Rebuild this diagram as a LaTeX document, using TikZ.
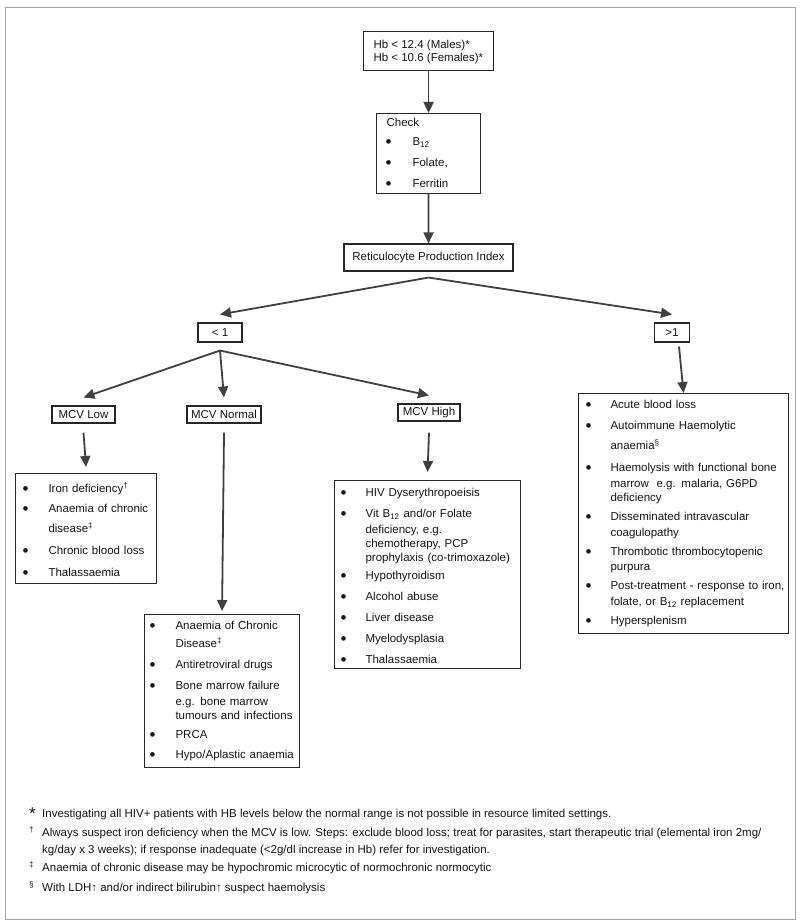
\documentclass[tikz,border=0pt]{standalone}
\usepackage{fontspec}
\setmainfont{Liberation Sans}
\usepackage{tikz}
\usetikzlibrary{arrows.meta}

\definecolor{arrowgray}{HTML}{404040}
\definecolor{boxblack}{HTML}{262626}
\definecolor{textdark}{HTML}{151515}
\definecolor{framegray}{HTML}{A6A6A6}

\newcommand{\mainsize}{\fontsize{11.5}{14}\selectfont}
\newcommand{\bul}{\raisebox{-1.6pt}{\fontsize{17}{14}\selectfont\textbullet}}
\newcommand{\tgap}[1]{\rule{0pt}{#1}}
\newcommand{\bgap}[1]{\rule[-#1]{0pt}{#1}}

\tikzset{
  box/.style={draw=boxblack, line width=1.1pt, text=textdark, font=\mainsize, inner sep=2pt},
  listbox/.style={box, anchor=north west, align=left, inner ysep=0pt},
  every edge/.style={draw=arrowgray, line width=1.8pt}
}

\begin{document}
\begin{tikzpicture}[x=1pt,y=-1pt,->,>={Triangle[length=11pt,width=10pt]}]
  \useasboundingbox (0,0) rectangle (800,923);
  \draw[-, framegray, line width=0.8pt] (5,7) rectangle (795,919);

  % top of the chart
  \node[box, anchor=north west, inner xsep=10pt, inner ysep=0pt] (hb) at (363,31)
    {\begin{tabular}{@{}l@{}}
      \tgap{17pt}Hb < 12.4 (Males)*\\[-1pt]
      Hb < 10.6 (Females)*\bgap{9pt}
    \end{tabular}};
  \node[listbox, text width=86pt, inner xsep=9pt] (chk) at (376,113)
    {\begin{tabular}{@{}p{27pt}@{}l@{}}
      \multicolumn{2}{@{}l@{}}{\hspace{1pt}\tgap{13pt}Check}\\[5pt]
      \bul & B\textsubscript{12}\\[7pt]
      \bul & Folate,\\[7pt]
      \bul & Ferritin\bgap{6pt}
    \end{tabular}};
  \node[box, minimum width=169pt, minimum height=27pt] (rpi) at (428.5,257.5) {Reticulocyte Production Index};
  \coordinate (rpiFork) at ([yshift=-6pt]rpi.south);

  \node[box, minimum width=44pt, minimum height=19pt] (lt1) at (220,332.5) {< 1};
  \node[box, minimum width=35pt, minimum height=19pt] (gt1) at (672,332.5) {>1};
  \coordinate (ltFork) at ([yshift=-8pt]lt1.south);

  \node[box, minimum width=63pt, minimum height=17pt, inner sep=1pt] (low) at (83.5,414.5) {MCV Low};
  \node[box, minimum width=74pt, minimum height=17pt, inner sep=1pt] (norm) at (224,414.5) {MCV Normal};
  \node[box, minimum width=62pt, minimum height=17pt, inner sep=1pt] (high) at (429,412.5) {MCV High};

  % lists of causes
  \node[listbox, text width=127pt, inner xsep=7pt] (lbox) at (15,473)
    {\begin{tabular}{@{}p{26pt}@{}l@{}}
      \bul & \tgap{19pt}Iron deficiency\textsuperscript{\textdagger}\\[6pt]
      \bul & Anaemia of chronic\\[6pt]
           & disease\textsuperscript{\textdaggerdbl}\\[8pt]
      \bul & Chronic blood loss\\[8pt]
      \bul & Thalassaemia\bgap{7pt}
    \end{tabular}};
  \node[listbox, text width=145pt, inner xsep=5pt] (nbox) at (144,614)
    {\begin{tabular}{@{}p{26pt}@{}l@{}}
      \bul & \tgap{15pt}Anaemia of Chronic\\[4pt]
           & Disease\textsuperscript{\textdaggerdbl}\\[7pt]
      \bul & Antiretroviral drugs\\[7pt]
      \bul & Bone marrow failure\\[2pt]
           & e.g. bone marrow\\
           & tumours and infections\\[5pt]
      \bul & PRCA\\[6pt]
      \bul & Hypo/Aplastic anaemia\bgap{9pt}
    \end{tabular}};
  \node[listbox, text width=174pt, inner xsep=6pt] (hbox) at (334,480)
    {\begin{tabular}{@{}p{25pt}@{}l@{}}
      \bul & \tgap{16pt}HIV Dyserythropoeisis\\[7pt]
      \bul & Vit B\textsubscript{12} and/or Folate\\[2pt]
           & deficiency, e.g.\\
           & chemotherapy, PCP\\
           & prophylaxis (co-trimoxazole)\\[4pt]
      \bul & Hypothyroidism\\[7pt]
      \bul & Alcohol abuse\\[7pt]
      \bul & Liver disease\\[7pt]
      \bul & Myelodysplasia\\[7pt]
      \bul & Thalassaemia\bgap{5pt}
    \end{tabular}};
  \node[listbox, text width=196pt, inner xsep=7pt] (rbox) at (578,393)
    {\begin{tabular}{@{}p{25pt}@{}l@{}}
      \bul & \tgap{15pt}Acute blood loss\\[7pt]
      \bul & Autoimmune Haemolytic\\[6pt]
           & anaemia\textsuperscript{\S}\\[8pt]
      \bul & Haemolysis with functional bone\\[2pt]
           & marrow~ e.g. malaria, G6PD\\
           & deficiency\\[5pt]
      \bul & Disseminated intravascular\\[2pt]
           & coagulopathy\\[5pt]
      \bul & Thrombotic thrombocytopenic\\[1pt]
           & purpura\\[5pt]
      \bul & Post-treatment - response to iron,\\[2pt]
           & folate, or B\textsubscript{12} replacement\\[5pt]
      \bul & Hypersplenism\bgap{9pt}
    \end{tabular}};

  % footnotes
  \node[anchor=north west, inner sep=0pt, font=\mainsize, text=textdark] (notes) at (29,803)
    {\begin{tabular}{@{}p{13pt}@{}l@{}}
      \raisebox{-2pt}{\fontsize{17}{17}\selectfont *} & \tgap{14pt}Investigating all HIV+ patients with HB levels below the normal range is not possible in resource limited settings.\\[5pt]
      \textsuperscript{\textdagger} & Always suspect iron deficiency when the MCV is low. Steps: exclude blood loss; treat for parasites, start therapeutic trial (elemental iron 2mg/\\[3pt]
       & kg/day x 3 weeks); if response inadequate (<2g/dl increase in Hb) refer for investigation.\\[4pt]
      \textsuperscript{\textdaggerdbl} & Anaemia of chronic disease may be hypochromic microcytic of normochronic normocytic\\[5pt]
      \textsuperscript{\S} & With LDH↑ and/or indirect bilirubin↑ suspect haemolysis
    \end{tabular}};

  \path (hb.south -| chk.north) edge (chk.north)
        (chk.south) edge (rpi.north)
        (rpiFork) edge ([yshift=8pt]lt1.north)
        (rpiFork) edge ([yshift=8pt]gt1.north)
        (ltFork) edge ([yshift=8pt]low.north)
        (ltFork) edge ([yshift=8pt]norm.north)
        (ltFork) edge ([yshift=8pt]high.north)
        ([yshift=-9pt]low.south) edge ([yshift=6pt]lbox.north)
        ([yshift=-9pt]norm.south) edge ([yshift=3pt]nbox.north)
        ([yshift=-11pt]high.south) edge ([yshift=8pt]hbox.north)
        ([xshift=7pt,yshift=-4pt]gt1.south) edge (rbox.north);
\end{tikzpicture}
\end{document}
